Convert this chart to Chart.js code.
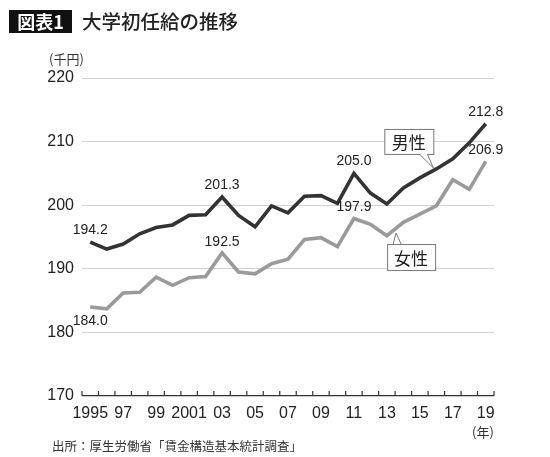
<!DOCTYPE html>
<html>
<head>
<meta charset="utf-8">
<script src="https://cdn.jsdelivr.net/npm/chart.js@4/dist/chart.umd.min.js"></script>
<style>
  html, body { margin: 0; padding: 0; background: #fff; }
  #wrap { position: relative; width: 550px; height: 457px; overflow: hidden; }
  #c { position: absolute; left: 0; top: 0; }
  .t { position: absolute; white-space: nowrap; color: #222; font-family: "Noto Sans CJK JP", "Noto Sans", sans-serif; }
  #badge { left: 9px; top: 10px; width: 63px; height: 23px; background: #111; color: #fff; font-size: 18px; font-weight: bold; line-height: 23px; text-align: center; }
  #title { left: 82px; top: 7px; font-size: 19.5px; line-height: 28px; font-weight: 500; }
  #unit { left: 49px; top: 51px; font-size: 13px; line-height: 16px; color: #333; }
  #nen { left: 472px; top: 424px; font-size: 13px; line-height: 16px; color: #333; }
  #src { left: 52px; top: 438px; font-size: 12.5px; line-height: 16px; color: #333; }
</style>
</head>
<body>
<div id="wrap">
  <canvas id="c" width="550" height="457"></canvas>
  <div class="t" id="badge">図表1</div>
  <div class="t" id="title">大学初任給の推移</div>
  <div class="t" id="unit">(千円)</div>
  <div class="t" id="nen">(年)</div>
  <div class="t" id="src">出所：厚生労働省「賃金構造基本統計調査」</div>
</div>
<script>
const years = ['1995','1996','1997','1998','1999','2000','2001','2002','2003','2004','2005','2006','2007','2008','2009','2010','2011','2012','2013','2014','2015','2016','2017','2018','2019'];
const xTickLabels = ['1995','','97','','99','','2001','','03','','05','','07','','09','','11','','13','','15','','17','','19'];
const male = [194.2,193.1,193.9,195.5,196.5,196.9,198.4,198.5,201.3,198.4,196.6,199.9,198.8,201.4,201.5,200.3,205.0,201.9,200.2,202.7,204.3,205.7,207.3,209.8,212.8];
const female = [184.0,183.7,186.2,186.3,188.7,187.4,188.6,188.8,192.5,189.5,189.2,190.8,191.5,194.6,194.9,193.5,197.9,197.0,195.2,197.3,198.6,199.9,204.0,202.5,206.9];
const seriesNames = ['男性','女性'];
const yTicks = [170,180,190,200,210,220];
const labelledIdx = [0, 8, 16, 24];

const NUM_FONT = '"Liberation Sans Narrow", "Liberation Sans", Arial, sans-serif';
const JP_FONT = '"Noto Sans CJK JP", "Noto Sans", sans-serif';

const decorPlugin = {
  id: 'decor',
  afterDatasetsDraw(chart) {
    const ctx = chart.ctx;
    const xs = chart.scales.x, ys = chart.scales.y;
    const bottom = chart.chartArea.bottom;
    // tick marks pointing up at category boundaries
    ctx.save();
    ctx.strokeStyle = '#333';
    ctx.lineWidth = 1.2;
    const n = years.length;
    const step = xs.getPixelForValue(1) - xs.getPixelForValue(0);
    for (let i = 0; i <= n; i++) {
      let x;
      if (i === 0) x = xs.getPixelForValue(0) - step / 2;
      else if (i === n) x = xs.getPixelForValue(n - 1) + step / 2;
      else x = (xs.getPixelForValue(i - 1) + xs.getPixelForValue(i)) / 2;
      ctx.beginPath();
      ctx.moveTo(x, bottom);
      ctx.lineTo(x, bottom - 5);
      ctx.stroke();
    }
    ctx.restore();

    // value labels
    ctx.save();
    ctx.font = '14px ' + NUM_FONT;
    ctx.fillStyle = '#222';
    ctx.textAlign = 'center';
    ctx.textBaseline = 'middle';
    labelledIdx.forEach(i => {
      const x = xs.getPixelForValue(i);
      ctx.fillText(male[i].toFixed(1), x, ys.getPixelForValue(male[i]) - 12);
      const fy = ys.getPixelForValue(female[i]);
      ctx.fillText(female[i].toFixed(1), x, i === 0 ? fy + 14 : fy - 11);
    });
    ctx.restore();

    // callouts
    function callout(text, bx, by, bw, bh, tail) {
      ctx.save();
      ctx.fillStyle = '#fff';
      ctx.strokeStyle = '#777';
      ctx.lineWidth = 1;
      ctx.fillRect(bx, by, bw, bh);
      ctx.strokeRect(bx + 0.5, by + 0.5, bw, bh);
      ctx.beginPath();
      ctx.moveTo(tail[0][0], tail[0][1]);
      ctx.lineTo(tail[2][0], tail[2][1]);
      ctx.lineTo(tail[1][0], tail[1][1]);
      ctx.closePath();
      ctx.fill();
      ctx.beginPath();
      ctx.moveTo(tail[0][0], tail[0][1]);
      ctx.lineTo(tail[2][0], tail[2][1]);
      ctx.lineTo(tail[1][0], tail[1][1]);
      ctx.stroke();
      ctx.fillStyle = '#222';
      ctx.font = '17px ' + JP_FONT;
      ctx.textAlign = 'center';
      ctx.textBaseline = 'middle';
      ctx.fillText(text, bx + bw / 2, by + bh / 2 + 1);
      ctx.restore();
    }
    // male callout anchored near 2016 point
    const mx = xs.getPixelForValue(21) - 3;
    const my = ys.getPixelForValue(male[21]) - 1;
    callout(seriesNames[0], mx - 49, my - 39, 49, 25,
      [[mx - 14, my - 14], [mx - 6, my - 14], [mx, my]]);
    // female callout anchored between 2013 and 2014
    const fx = (xs.getPixelForValue(18) + xs.getPixelForValue(19)) / 2 + 1;
    const fy = (ys.getPixelForValue(female[18]) + ys.getPixelForValue(female[19])) / 2 + 4;
    callout(seriesNames[1], fx - 9, fy + 11, 48, 26,
      [[fx - 3, fy + 11], [fx + 5, fy + 11], [fx, fy]]);
  }
};

new Chart(document.getElementById('c'), {
  type: 'line',
  data: {
    labels: years,
    datasets: [
      { label: seriesNames[0], data: male, borderColor: '#333333', borderWidth: 3.6, pointRadius: 0, tension: 0, borderJoinStyle: 'miter' },
      { label: seriesNames[1], data: female, borderColor: '#9a9a9a', borderWidth: 3.6, pointRadius: 0, tension: 0, borderJoinStyle: 'miter' }
    ]
  },
  options: {
    responsive: false,
    animation: false,
    devicePixelRatio: 1,
    layout: { padding: { left: 0, right: 56, top: 78, bottom: 0 } },
    plugins: { legend: { display: false }, tooltip: { enabled: false } },
    scales: {
      x: {
        offset: true,
        grid: { display: false, drawTicks: false },
        border: { display: false },
        ticks: {
          autoSkip: false, maxRotation: 0, padding: 8,
          color: '#222', font: { family: NUM_FONT, size: 16 },
          callback: (v, i) => xTickLabels[i]
        },
        afterFit: s => { s.height = 61; }
      },
      y: {
        min: yTicks[0], max: yTicks[yTicks.length - 1],
        afterBuildTicks: s => { s.ticks = yTicks.map(v => ({ value: v })); },
        grid: {
          drawTicks: false,
          color: c => c.tick && c.tick.value === 170 ? '#333' : '#d2d2d2',
          lineWidth: c => c.tick && c.tick.value === 170 ? 1.3 : 1
        },
        border: { display: false },
        ticks: { padding: 8, color: '#222', font: { family: NUM_FONT, size: 16 } },
        afterFit: s => { s.width = 82; }
      }
    }
  },
  plugins: [decorPlugin]
});
</script>
</body>
</html>
